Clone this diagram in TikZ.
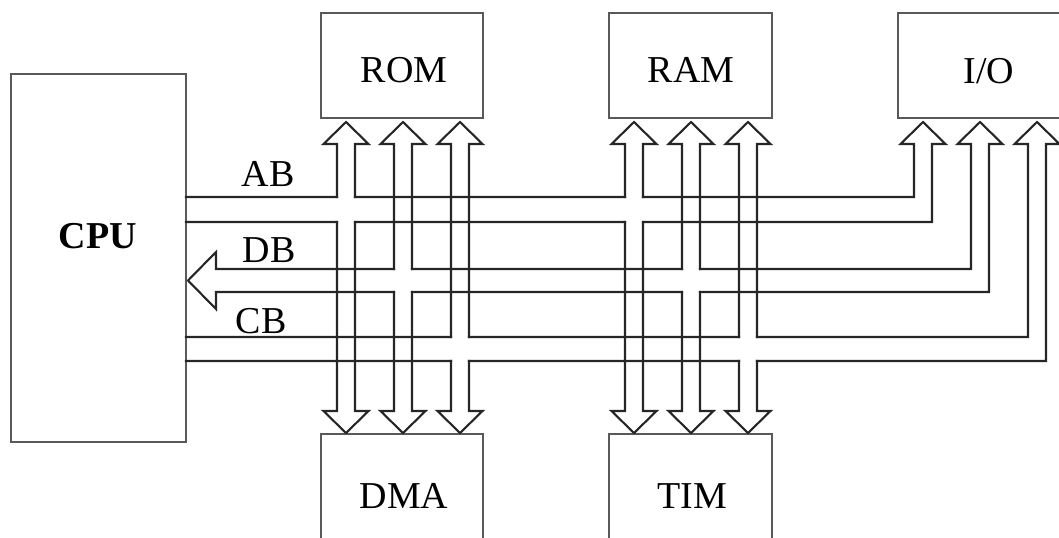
\documentclass[tikz,border=0pt]{standalone}
\usepackage{fontspec}
\setmainfont{Liberation Serif}
\newcommand\busvpipe[3]{% center x, bus top y, bus bottom y
  \draw[pipe] ({#1+9},411) -- ({#1+22.5},411) -- (#1,433) -- ({#1-22.5},411) -- ({#1-9},411) -- ({#1-9},#3)
    ({#1-9},#2) -- ({#1-9},144) -- ({#1-22.5},144) -- (#1,122) -- ({#1+22.5},144) -- ({#1+9},144) -- ({#1+9},#2)
    ({#1+9},#3) -- ({#1+9},411);}
\begin{document}
\begin{tikzpicture}[x=0.5pt,y=-0.5pt,
  box/.style={draw=black!65, line width=1.4pt, inner sep=0pt},
  pipe/.style={draw=black!85, line width=1.05pt, line cap=rect, line join=miter},
  lbl/.style={font=\fontsize{19}{22}\selectfont, anchor=base, inner sep=0pt}]
\useasboundingbox (0,0) rectangle (1059,537);
\clip (0,0) rectangle (1059,537);
% boxes
\node[box, minimum width=87.5pt, minimum height=184pt] (cpu) at (98.5,258) {};
\node[box, minimum width=81pt, minimum height=52.5pt] (rom) at (402,65.5) {};
\node[box, minimum width=81.5pt, minimum height=52.5pt] (ram) at (690.5,65.5) {};
\node[box, minimum width=90pt, minimum height=52.5pt] (io) at (988,65.5) {};
\node[box, minimum width=81pt, minimum height=70pt] (dma) at (402,504) {};
\node[box, minimum width=81.5pt, minimum height=70pt] (tim) at (690.5,504) {};
% labels
\node[lbl, font=\fontsize{19}{22}\selectfont\bfseries] (tcpu) at (98,248) {CPU};
\node[lbl] (trom) at (404,82) {ROM};
\node[lbl] (tram) at (691,82) {RAM};
\node[lbl] (tio) at (989,83) {I/O};
\node[lbl] (tdma) at (404,508) {DMA};
\node[lbl] (ttim) at (692,508) {TIM};
\node[lbl] (tab) at (268,186) {AB};
\node[lbl] (tdb) at (269,262) {DB};
\node[lbl] (tcb) at (261,333) {CB};
% vertical pipes (ROM/DMA and RAM/TIM)
\busvpipe{346}{197}{222}
\busvpipe{403}{269}{292}
\busvpipe{460}{337}{361}
\busvpipe{634}{197}{222}
\busvpipe{691}{269}{292}
\busvpipe{748}{337}{361}
% AB
\draw[pipe] (186,197) -- (337,197) (355,197) -- (625,197) (643,197) -- (914,197) -- (914,144)
  -- (900.5,144) -- (923,122) -- (945.5,144) -- (932,144) -- (932,222) -- (643,222)
  (625,222) -- (355,222) (337,222) -- (186,222);
% DB
\draw[pipe] (216,269) -- (394,269) (412,269) -- (682,269) (700,269) -- (971,269) -- (971,144)
  -- (957.5,144) -- (980,122) -- (1002.5,144) -- (989,144) -- (989,292) -- (700,292)
  (682,292) -- (412,292) (394,292) -- (216,292) -- (216,309) -- (188,280.5) -- (216,252) -- (216,269);
% CB
\draw[pipe] (186,337) -- (451,337) (469,337) -- (739,337) (757,337) -- (1028,337) -- (1028,144)
  -- (1014.5,144) -- (1037,122) -- (1059.5,144) -- (1046,144) -- (1046,361) -- (757,361)
  (739,361) -- (469,361) (451,361) -- (186,361);
\end{tikzpicture}
\end{document}
